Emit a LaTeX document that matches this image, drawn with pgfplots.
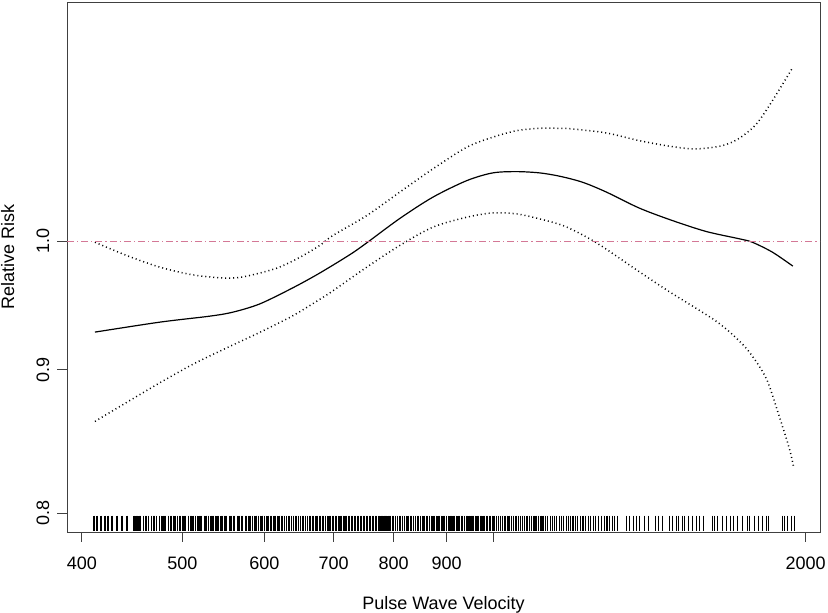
\documentclass[border=0pt]{standalone}
\usepackage{fontspec}
\setmainfont{Liberation Sans}
\usepackage{pgfplots}
\usepackage{pgfplotstable}
\pgfplotsset{compat=1.18}
\usetikzlibrary{calc}
\definecolor{refline}{RGB}{212,120,150}

% fitted relative risk and pointwise band
\pgfplotstableread{
x y
411.7 0.9283
475.7 0.9359
531.6 0.9405
559.5 0.9436
594.1 0.9500
639.3 0.9626
678.9 0.9744
726.2 0.9893
753.6 0.9988
810.9 1.0189
872.8 1.0369
941.3 1.0511
997.3 1.0578
1051.8 1.0589
1107.1 1.0578
1157.4 1.0549
1217.7 1.0497
1284.5 1.0412
1382.1 1.0276
1487.3 1.0172
1603.8 1.0081
1725.8 1.0021
1776.4 0.9993
1857.6 0.9912
1944.0 0.9799
}\fittab

\pgfplotstableread{
x y
411.7 0.9993
442.1 0.9884
475.7 0.9791
511.9 0.9729
552.1 0.9703
577.2 0.9719
617.0 0.9783
649.4 0.9870
678.9 0.9967
698.8 1.0048
753.6 1.0214
810.9 1.0412
872.8 1.0612
941.3 1.0803
997.3 1.0892
1051.8 1.0951
1107.1 1.0972
1157.4 1.0972
1191.3 1.0966
1284.5 1.0930
1382.1 1.0861
1487.3 1.0808
1568.6 1.0788
1661.8 1.0817
1725.8 1.0883
1792.7 1.1011
1857.6 1.1223
1944.0 1.1535
}\uptab

\pgfplotstableread{
x y
411.7 0.8627
442.1 0.8764
475.7 0.8905
511.9 0.9041
552.1 0.9164
594.1 0.9281
639.3 0.9408
678.9 0.9536
698.8 0.9602
753.6 0.9791
810.9 0.9966
872.8 1.0117
941.3 1.0200
997.3 1.0236
1051.8 1.0228
1107.1 1.0186
1157.4 1.0140
1191.3 1.0095
1237.2 1.0021
1284.5 0.9935
1382.1 0.9753
1478.0 0.9594
1579.1 0.9450
1639.8 0.9365
1699.2 0.9266
1764.6 0.9132
1833.0 0.8934
1886.7 0.8660
1929.1 0.8436
1946.3 0.8319
}\lowtab

% observed pulse wave velocities (rug); y is just the rug's height on the plot
\pgfplotstableread[row sep=\\]{
x y\\
410.8 0.7937\\ 413.6 0.7937\\ 417.2 0.7937\\ 421.0 0.7937\\ 423.8 0.7937\\ 427.6 0.7937\\ 432.4 0.7937\\ 437.2 0.7937\\ 442.1 0.7937\\
449 0.7937\\ 451 0.7937\\ 452 0.7937\\ 454 0.7937\\ 456 0.7937\\ 459 0.7937\\ 461 0.7937\\ 462 0.7937\\ 464 0.7937\\ 467 0.7937\\
469 0.7937\\ 470 0.7937\\ 472 0.7937\\ 475 0.7937\\ 477 0.7937\\ 479 0.7937\\ 480 0.7937\\ 482 0.7937\\ 485 0.7937\\ 487 0.7937\\
488 0.7937\\ 490 0.7937\\ 492 0.7937\\ 495 0.7937\\ 497 0.7937\\ 498 0.7937\\ 500 0.7937\\ 502 0.7937\\ 504 0.7937\\ 507 0.7937\\
509 0.7937\\ 510 0.7937\\ 512 0.7937\\ 515 0.7937\\ 517 0.7937\\ 519 0.7937\\ 520 0.7937\\ 522 0.7937\\ 525 0.7937\\ 527 0.7937\\
528 0.7937\\ 530 0.7937\\ 533 0.7937\\ 535 0.7937\\ 536 0.7937\\ 538 0.7937\\ 540 0.7937\\ 542 0.7937\\ 545 0.7937\\ 547 0.7937\\
549 0.7937\\ 550 0.7937\\ 552 0.7937\\ 555 0.7937\\ 557 0.7937\\ 558 0.7937\\ 560 0.7937\\ 562 0.7937\\ 565 0.7937\\ 567 0.7937\\
568 0.7937\\ 570 0.7937\\ 572 0.7937\\ 575 0.7937\\ 577 0.7937\\ 579 0.7937\\ 580 0.7937\\ 582 0.7937\\ 585 0.7937\\ 587 0.7937\\
589 0.7937\\ 590 0.7937\\ 592 0.7937\\ 595 0.7937\\ 597 0.7937\\ 598 0.7937\\ 600 0.7937\\
603 0.7937\\ 605 0.7937\\ 608 0.7937\\ 610 0.7937\\ 613 0.7937\\ 615 0.7937\\ 618 0.7937\\ 620 0.7937\\ 623 0.7937\\ 625 0.7937\\
628 0.7937\\ 630 0.7937\\ 633 0.7937\\ 635 0.7937\\ 638 0.7937\\ 640 0.7937\\ 643 0.7937\\ 645 0.7937\\ 648 0.7937\\ 650 0.7937\\
653 0.7937\\ 655 0.7937\\ 658 0.7937\\ 660 0.7937\\ 663 0.7937\\ 665 0.7937\\ 668 0.7937\\ 670 0.7937\\ 673 0.7937\\ 675 0.7937\\
678 0.7937\\ 680 0.7937\\ 683 0.7937\\ 685 0.7937\\ 688 0.7937\\ 690 0.7937\\ 693 0.7937\\ 695 0.7937\\ 698 0.7937\\ 700 0.7937\\
703 0.7937\\ 705 0.7937\\ 708 0.7937\\ 710 0.7937\\ 713 0.7937\\ 715 0.7937\\ 718 0.7937\\ 720 0.7937\\ 723 0.7937\\ 725 0.7937\\
728 0.7937\\ 730 0.7937\\ 733 0.7937\\ 735 0.7937\\ 738 0.7937\\ 740 0.7937\\ 743 0.7937\\ 745 0.7937\\ 748 0.7937\\ 750 0.7937\\
753 0.7937\\ 755 0.7937\\ 758 0.7937\\ 760 0.7937\\ 763 0.7937\\ 765 0.7937\\ 768 0.7937\\ 770 0.7937\\ 773 0.7937\\ 775 0.7937\\
778 0.7937\\ 780 0.7937\\ 783 0.7937\\ 785 0.7937\\ 788 0.7937\\ 790 0.7937\\ 793 0.7937\\ 795 0.7937\\ 798 0.7937\\ 800 0.7937\\
804 0.7937\\ 807 0.7937\\ 810 0.7937\\ 813 0.7937\\ 816 0.7937\\ 820 0.7937\\ 823 0.7937\\ 826 0.7937\\ 830 0.7937\\ 833 0.7937\\
836 0.7937\\ 840 0.7937\\ 843 0.7937\\ 846 0.7937\\ 850 0.7937\\ 853 0.7937\\ 856 0.7937\\ 860 0.7937\\ 863 0.7937\\ 866 0.7937\\
870 0.7937\\ 873 0.7937\\ 876 0.7937\\ 880 0.7937\\ 883 0.7937\\ 886 0.7937\\ 890 0.7937\\ 893 0.7937\\ 896 0.7937\\ 900 0.7937\\
904 0.7937\\ 907 0.7937\\ 910 0.7937\\ 913 0.7937\\ 916 0.7937\\ 920 0.7937\\ 923 0.7937\\ 926 0.7937\\ 930 0.7937\\ 933 0.7937\\
936 0.7937\\ 940 0.7937\\ 943 0.7937\\ 946 0.7937\\ 950 0.7937\\ 953 0.7937\\ 956 0.7937\\ 960 0.7937\\ 963 0.7937\\ 966 0.7937\\
970 0.7937\\ 973 0.7937\\ 976 0.7937\\ 980 0.7937\\ 983 0.7937\\ 986 0.7937\\ 990 0.7937\\ 993 0.7937\\ 996 0.7937\\ 1000 0.7937\\
1005 0.7937\\ 1010 0.7937\\ 1014 0.7937\\ 1019 0.7937\\ 1025 0.7937\\ 1030 0.7937\\ 1034 0.7937\\ 1040 0.7937\\
1045 0.7937\\ 1050 0.7937\\ 1056 0.7937\\ 1060 0.7937\\ 1066 0.7937\\ 1071 0.7937\\ 1076 0.7937\\ 1082 0.7937\\
1088 0.7937\\ 1093 0.7937\\ 1098 0.7937\\ 1104 0.7937\\ 1110 0.7937\\ 1115 0.7937\\ 1121 0.7937\\ 1127 0.7937\\
1133 0.7937\\ 1138 0.7937\\ 1144 0.7937\\ 1150 0.7937\\ 1156 0.7937\\ 1162 0.7937\\ 1168 0.7937\\ 1174 0.7937\\
1180 0.7937\\ 1186 0.7937\\ 1192 0.7937\\ 1199 0.7937\\ 1205 0.7937\\ 1212 0.7937\\ 1219 0.7937\\ 1226 0.7937\\
1233 0.7937\\ 1240 0.7937\\ 1247 0.7937\\ 1254 0.7937\\ 1262 0.7937\\ 1270 0.7937\\ 1278 0.7937\\ 1286 0.7937\\
1294 0.7937\\ 1302 0.7937\\ 1308 0.7937\\ 1316 0.7937\\ 1343 0.7937\\ 1352 0.7937\\ 1364 0.7937\\ 1373 0.7937\\
1382 0.7937\\ 1398 0.7937\\ 1410 0.7937\\ 1432 0.7937\\ 1442 0.7937\\ 1455 0.7937\\ 1478 0.7937\\ 1487 0.7937\\
1501 0.7937\\ 1507 0.7937\\ 1521 0.7937\\ 1528 0.7937\\ 1541 0.7937\\ 1555 0.7937\\ 1569 0.7937\\ 1579 0.7937\\
1593 0.7937\\ 1626 0.7937\\ 1633 0.7937\\ 1644 0.7937\\ 1662 0.7937\\ 1677 0.7937\\ 1692 0.7937\\ 1703 0.7937\\
1719 0.7937\\ 1738 0.7937\\ 1757 0.7937\\ 1765 0.7937\\ 1785 0.7937\\ 1801 0.7937\\ 1817 0.7937\\ 1833 0.7937\\
1841 0.7937\\ 1899 0.7937\\ 1908 0.7937\\ 1920 0.7937\\ 1938 0.7937\\ 1950 0.7937\\
}\rugtab

\begin{document}
\begin{tikzpicture}
\begin{axis}[
    scale only axis,
    width=376.5pt, height=264.5pt,
    xmode=log, ymode=log,
    xmin=387, xmax=2065,
    ymin=0.788, ymax=1.216,
    font=\fontsize{9}{11}\selectfont,
    axis line style={black!75, line width=0.5pt},
    tick style={black!75, line width=0.5pt},
    tick align=outside,
    major tick length=5pt,
    xtick pos=bottom, ytick pos=left,
    xtick={400,500,600,700,800,900,1000,2000},
    xticklabels={400,500,600,700,800,900,,2000},
    ytick={0.8,0.9,1.0},
    yticklabels={0.8,0.9,1.0},
    minor xtick={}, minor ytick={},
    xticklabel style={anchor=base, yshift=-14pt},
    yticklabel style={anchor=base, rotate=90, yshift=4pt},
    every axis x label/.style={at={(axis description cs:0.5,0)}, anchor=base, yshift=-38.5pt},
    every axis y label/.style={at={(axis description cs:0,0.52)}, rotate=90, anchor=base, yshift=26.5pt},
    xlabel={Pulse Wave Velocity},
    ylabel={Relative Risk},
]
\addplot[only marks, mark=|, mark size=3.75pt, line width=0.6pt, black] table {\rugtab};
\addplot[black, line width=0.6pt, smooth] table {\fittab};
\addplot[black, line width=0.75pt, dash pattern=on 0.5pt off 1.5pt, smooth] table {\uptab};
\addplot[black, line width=0.75pt, dash pattern=on 0.5pt off 1.5pt, smooth] table {\lowtab};
\addplot[refline, line width=0.8pt, dash pattern=on 3.5pt off 1.5pt on 0.6pt off 1.5pt]
    coordinates {(387,1) (2065,1)};
\end{axis}
\pgfresetboundingbox
\path ($(current axis.south west)+(-33.5pt,-40pt)$) rectangle ($(current axis.north east)+(4pt,1.5pt)$);
\end{tikzpicture}
\end{document}
